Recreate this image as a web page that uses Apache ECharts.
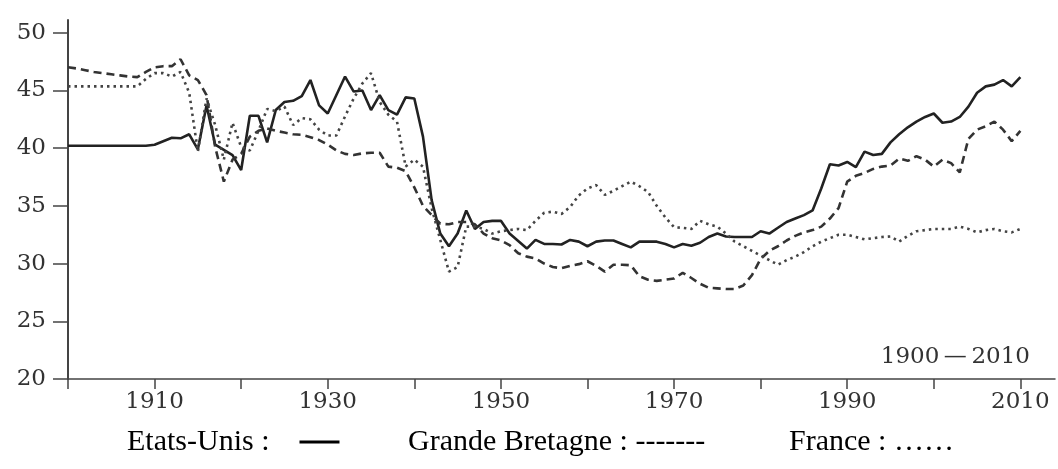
<!DOCTYPE html>
<html><head><meta charset="utf-8">
<script src="https://cdn.jsdelivr.net/npm/echarts@6/dist/echarts.min.js"></script>
<style>html,body{margin:0;padding:0;background:#fff}#c{width:1058px;height:469px}</style>
</head><body><div id="c"></div>
<script>
const firstYear = 1900, lastYear = 2010;
const years = [];
for (let y = firstYear; y <= lastYear; y++) years.push(y);

// Etats-Unis (solid)
const etatsUnis = [
  40.2,40.2,40.2,40.2,40.2,40.2,40.2,40.2,40.2,40.2,
  40.3,40.6,40.9,40.85,41.2,39.9,43.7,40.3,39.85,39.4,
  38.1,42.8,42.8,40.5,43.3,44.0,44.1,44.5,45.9,43.7,
  43.0,44.6,46.2,44.9,45.0,43.3,44.6,43.3,42.9,44.4,
  44.3,41.0,35.5,32.6,31.5,32.6,34.6,33.0,33.6,33.7,
  33.7,32.6,31.95,31.3,32.05,31.7,31.7,31.65,32.05,31.9,
  31.5,31.9,32.0,32.0,31.7,31.4,31.9,31.9,31.9,31.7,
  31.4,31.7,31.55,31.8,32.3,32.6,32.35,32.3,32.3,32.3,
  32.8,32.6,33.1,33.6,33.9,34.2,34.6,36.5,38.6,38.5,
  38.8,38.35,39.7,39.4,39.5,40.5,41.2,41.8,42.3,42.7,
  43.0,42.2,42.3,42.7,43.6,44.8,45.35,45.5,45.9,45.35,46.15
];
// Grande Bretagne (dashed)
const grandeBretagne = [
  47.0,46.9,46.75,46.6,46.5,46.4,46.3,46.2,46.15,46.6,
  47.0,47.1,47.1,47.7,46.3,45.9,44.6,40.1,37.1,39.0,
  39.5,41.0,41.5,41.7,41.5,41.35,41.2,41.15,40.95,40.7,
  40.3,39.8,39.5,39.4,39.55,39.6,39.6,38.4,38.3,38.0,
  36.6,35.0,34.2,33.45,33.4,33.6,33.6,33.4,32.6,32.2,
  32.0,31.6,30.9,30.6,30.45,30.0,29.7,29.6,29.8,29.95,
  30.2,29.8,29.3,29.9,29.9,29.85,28.9,28.6,28.5,28.6,
  28.7,29.2,28.75,28.25,27.9,27.85,27.8,27.8,28.1,29.0,
  30.4,31.1,31.5,32.0,32.4,32.7,32.9,33.2,33.9,34.8,
  37.1,37.6,37.85,38.2,38.4,38.5,39.1,38.9,39.3,39.0,
  38.4,39.0,38.7,37.9,40.8,41.6,41.9,42.3,41.6,40.6,41.5
];
// France (dotted)
const france = [
  45.35,45.35,45.35,45.35,45.35,45.35,45.35,45.35,45.35,46.0,
  46.5,46.5,46.2,46.6,44.8,39.7,44.3,42.0,39.0,42.2,
  40.1,39.8,41.5,43.4,43.2,43.6,42.0,42.6,42.5,41.6,
  41.1,41.1,42.75,44.3,45.6,46.5,44.0,42.9,42.3,38.4,
  39.0,38.4,34.8,32.05,29.3,29.7,33.2,33.2,33.0,32.6,
  32.8,32.9,33.0,32.9,33.7,34.4,34.5,34.3,34.9,35.9,
  36.5,36.8,35.95,36.3,36.7,37.1,36.7,36.2,35.0,34.0,
  33.15,33.1,33.0,33.7,33.4,33.2,32.6,31.9,31.5,31.1,
  30.7,30.3,29.9,30.3,30.6,31.0,31.5,31.9,32.2,32.5,
  32.5,32.3,32.1,32.2,32.3,32.35,31.9,32.4,32.8,32.9,
  33.0,33.0,33.0,33.2,33.0,32.7,32.9,33.0,32.8,32.7,33.0
];

const yTicks = [20, 25, 30, 35, 40, 45, 50];
const xTicks = [1900, 1910, 1920, 1930, 1940, 1950, 1960, 1970, 1980, 1990, 2000, 2010];
const xLabels = [1910, 1930, 1950, 1970, 1990, 2010];
const periodLabel = '1900\u2009\u2014\u20092010';
const legendTexts = ['Etats-Unis :', 'Grande Bretagne : -------', 'France : \u2026\u2026'];

function pairs(vals) { return years.map((y, i) => [y, vals[i]]); }

const axisColor = '#444';
const labelFont = { fontFamily: 'DejaVu Serif', fontSize: 23, color: '#333' };
const plain = v => String(v);

const chart = echarts.init(document.getElementById('c'), null, { renderer: 'canvas' });
chart.setOption({
  animation: false,
  backgroundColor: '#fff',
  grid: { left: 68, right: 3, top: 20, bottom: 90, containLabel: false },
  xAxis: {
    type: 'value', min: 1900, max: 2014,
    axisLine: { show: true, lineStyle: { color: axisColor, width: 1.5 } },
    axisTick: { show: true, customValues: xTicks, length: 10, lineStyle: { color: axisColor, width: 1.5 } },
    axisLabel: Object.assign({ customValues: xLabels, margin: 12, formatter: plain }, labelFont),
    splitLine: { show: false }
  },
  yAxis: {
    type: 'value', min: 20, max: 51.1,
    axisLine: { show: true, lineStyle: { color: axisColor, width: 2 } },
    axisTick: { show: true, customValues: yTicks, length: 15, lineStyle: { color: axisColor, width: 1.5 } },
    axisLabel: Object.assign({ customValues: yTicks, margin: 22, formatter: plain,
      verticalAlign: 'middle', lineHeight: 23, padding: [0, 0, 9, 0] }, labelFont),
    splitLine: { show: false }
  },
  series: [
    { name: 'Etats-Unis', type: 'line', data: pairs(etatsUnis), symbol: 'none',
      lineStyle: { color: '#222', width: 2.6, type: 'solid' } },
    { name: 'Grande Bretagne', type: 'line', data: pairs(grandeBretagne), symbol: 'none',
      lineStyle: { color: '#333', width: 2.6, type: [8, 5] } },
    { name: 'France', type: 'line', data: pairs(france), symbol: 'none',
      lineStyle: { color: '#444', width: 2.6, type: [2.5, 4] } }
  ],
  graphic: [
    { type: 'text', right: 28, top: 346,
      style: { text: periodLabel, font: '23px "DejaVu Serif"', fill: '#333' } },
    { type: 'text', left: 127, top: 427,
      style: { text: legendTexts[0] + '    {bar|}', font: '30px "Liberation Serif"', fill: '#000',
        rich: { bar: { width: 40, height: 3, backgroundColor: '#000', verticalAlign: 'middle' } } } },
    { type: 'text', left: 408, top: 427,
      style: { text: legendTexts[1], font: '30px "Liberation Serif"', fill: '#000' } },
    { type: 'text', left: 789, top: 427,
      style: { text: legendTexts[2], font: '30px "Liberation Serif"', fill: '#000' } }
  ]
});
</script></body></html>
